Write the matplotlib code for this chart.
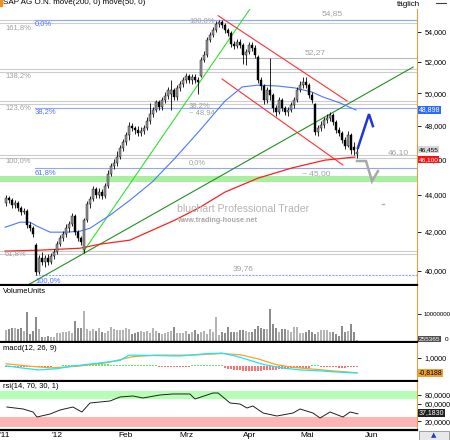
import matplotlib
matplotlib.use('Agg')
import matplotlib.pyplot as plt
import numpy as np
from matplotlib import font_manager
from matplotlib.patches import Rectangle

# ---------------- data ----------------
open_ = [43.55, 43.81, 43.70, 43.43, 43.54, 43.27, 43.05, 43.11, 42.35, 42.19,
         41.30, 39.92, 40.62, 40.42, 40.62, 40.42, 40.73, 40.94, 41.35, 41.66,
         41.87, 42.19, 42.40, 42.84, 41.98, 41.66, 41.04, 42.62, 43.48, 43.76,
         44.32, 43.98, 44.15, 43.92, 44.48, 45.17, 45.62, 45.79, 46.14, 46.67,
         47.03, 47.44, 47.97, 47.85, 47.73, 47.55, 47.67, 47.85, 48.28, 48.70,
         48.95, 49.45, 49.14, 49.57, 49.82, 49.95, 50.20, 49.76, 50.32, 50.58,
         50.83, 51.09, 50.83, 51.03, 50.83, 51.10, 52.13, 52.46, 53.46, 53.80,
         54.14, 54.55, 54.68, 54.48, 54.14, 53.93, 53.19, 53.06, 53.33, 53.13,
         52.46, 52.66, 53.13, 52.92, 52.30, 50.83, 50.45, 49.57, 50.20, 49.88,
         49.07, 48.83, 49.57, 49.07, 48.83, 48.95, 49.26, 49.57, 50.20, 50.51,
         50.71, 50.51, 49.88, 49.30, 47.61, 47.85, 48.03, 48.34, 48.46, 48.64,
         48.21, 47.73, 47.55, 47.14, 46.79, 47.44, 46.75, 46.30]
close = [43.81, 43.70, 43.43, 43.54, 43.27, 43.05, 43.11, 42.35, 42.19, 41.87,
         39.92, 40.62, 40.42, 40.62, 40.42, 40.73, 40.94, 41.35, 41.66, 41.87,
         42.19, 42.40, 42.84, 41.98, 41.66, 41.45, 42.62, 43.48, 43.76, 44.32,
         43.98, 44.15, 43.92, 44.48, 45.17, 45.62, 45.79, 46.14, 46.67, 47.03,
         47.44, 47.97, 47.85, 47.73, 47.55, 47.67, 47.85, 48.28, 48.70, 48.95,
         49.45, 49.14, 49.57, 49.82, 50.20, 50.20, 49.76, 50.32, 50.58, 50.83,
         51.09, 50.83, 51.03, 50.83, 50.71, 52.13, 52.46, 53.46, 53.80, 54.14,
         54.55, 54.68, 54.48, 54.14, 53.93, 53.19, 53.06, 53.33, 53.13, 52.46,
         52.66, 53.13, 52.92, 52.46, 50.83, 50.45, 49.57, 50.20, 49.88, 49.07,
         48.83, 49.57, 49.07, 48.83, 48.95, 49.26, 49.57, 50.20, 50.51, 50.71,
         50.51, 49.88, 49.57, 47.61, 47.85, 48.03, 48.34, 48.46, 48.64, 48.21,
         47.73, 47.55, 47.14, 46.79, 47.44, 46.55, 46.55, 46.46]
high = [43.98, 43.95, 43.85, 43.70, 43.68, 43.40, 43.30, 43.20, 42.50, 42.30,
        41.40, 40.80, 40.95, 40.78, 40.85, 40.90, 41.10, 41.50, 41.85, 42.02,
        42.40, 42.55, 43.00, 42.95, 42.10, 41.80, 42.75, 43.65, 43.95, 44.50,
        44.45, 44.35, 44.30, 44.65, 45.40, 45.80, 46.00, 46.50, 46.85, 47.20,
        47.62, 48.20, 48.15, 48.00, 47.95, 47.90, 48.05, 48.50, 49.40, 49.15,
        49.60, 49.60, 49.75, 50.10, 50.40, 50.85, 50.35, 50.50, 50.80, 51.05,
        51.30, 51.25, 51.20, 51.20, 51.00, 52.35, 52.70, 53.65, 54.00, 54.35,
        54.75, 54.85, 54.80, 54.60, 54.30, 54.05, 53.40, 53.55, 53.50, 53.25,
        52.85, 53.30, 53.35, 53.10, 52.45, 51.00, 50.60, 50.40, 52.27, 50.00,
        49.25, 49.75, 49.70, 49.20, 49.15, 49.45, 49.75, 50.40, 50.75, 51.00,
        51.05, 50.65, 50.05, 49.40, 48.05, 48.25, 48.55, 48.70, 48.85, 48.75,
        48.35, 47.90, 47.70, 47.30, 47.65, 47.55, 47.00, 46.65]
low = [43.40, 43.55, 43.30, 43.25, 43.10, 42.90, 42.95, 42.20, 42.05, 41.75,
       39.76, 39.85, 40.30, 40.20, 40.30, 40.35, 40.60, 40.85, 41.25, 41.50,
       41.75, 42.00, 42.30, 41.85, 41.50, 41.30, 40.88, 42.50, 43.30, 43.65,
       43.85, 43.80, 43.75, 43.80, 44.40, 45.05, 45.45, 45.60, 46.00, 46.50,
       46.85, 47.15, 47.65, 47.50, 47.35, 47.40, 47.50, 47.75, 48.10, 48.55,
       48.80, 48.95, 48.95, 49.40, 49.65, 48.95, 49.60, 49.60, 50.15, 50.40,
       50.65, 50.65, 50.60, 50.65, 49.95, 51.00, 52.00, 52.35, 53.30, 53.65,
       54.00, 54.35, 54.30, 53.95, 53.75, 53.00, 52.85, 52.90, 52.95, 51.90,
       51.81, 52.50, 52.70, 52.25, 50.65, 50.20, 49.35, 49.40, 49.60, 48.85,
       48.60, 48.70, 48.90, 48.65, 48.60, 48.80, 49.10, 49.45, 50.05, 50.35,
       50.30, 49.70, 49.40, 47.45, 47.40, 47.65, 47.85, 48.15, 48.30, 48.05,
       47.55, 47.40, 46.95, 46.60, 46.70, 46.30, 46.25, 46.10]
volume = [4.00, 4.24, 4.62, 4.87, 4.24, 4.87, 3.62, 10.86, 2.37, 3.62,
          8.99, 4.24, 1.50, 1.50, 1.87, 1.50, 1.50, 2.75, 3.00, 3.12,
          3.37, 3.62, 3.00, 7.37, 4.62, 4.62, 11.11, 4.24, 3.75, 4.37,
          3.75, 4.62, 3.37, 2.75, 3.75, 5.24, 4.24, 4.00, 4.00, 4.00,
          4.87, 4.37, 2.37, 2.75, 3.12, 3.62, 3.12, 3.75, 2.75, 4.62,
          3.62, 3.00, 2.37, 2.75, 3.37, 3.62, 4.99, 2.75, 3.00, 3.00,
          3.62, 2.37, 3.12, 4.00, 2.37, 3.12, 3.75, 2.37, 4.24, 3.37,
          8.74, 2.12, 3.37, 2.75, 5.24, 3.12, 3.37, 3.37, 4.00, 4.00,
          3.75, 3.37, 3.37, 4.37, 5.49, 4.62, 4.37, 4.37, 11.74, 6.24,
          4.87, 3.37, 4.24, 4.37, 4.00, 3.37, 4.99, 4.99, 3.00, 3.00,
          3.37, 4.00, 3.12, 2.50, 3.12, 4.00, 4.00, 4.00, 3.12, 3.12,
          2.37, 1.75, 5.49, 3.37, 3.62, 6.24, 3.37, 0.255]  # millions

# moving averages (index, price)
ma50_i = [-0.3, 4.7, 8, 10.3, 14.7, 20.3, 24.7, 28, 34.7, 41.3, 48.7, 56.3, 64.7, 73,
          78.7, 84, 90.7, 96.3, 102, 105.7, 111.3, 116.7]
ma50_v = [42.24, 42.51, 42.51, 42.30, 41.98, 41.98, 42.03, 42.19, 42.89, 43.70, 44.71,
          46.07, 47.73, 49.51, 50.39, 50.51, 50.45, 50.33, 50.07, 49.76, 49.39, 48.95]
ma200_i = [-0.3, 11.3, 24.7, 31.3, 41.3, 56.3, 64.7, 73, 84, 95.3, 106.3, 116.3]
ma200_v = [40.99, 41.04, 41.14, 41.35, 41.56, 42.62, 43.32, 44.15, 44.93, 45.51, 45.96, 46.14]

# MACD / signal knots and histogram
macd_i = [0, 5, 11, 17, 22, 30, 38, 41, 50, 58, 66, 72, 77, 81, 86, 92, 98, 104, 110, 117]
macd_v = [0.05, -0.2, -0.45, -0.3, 0.0, 0.35, 0.7, 1.35, 1.3, 1.25, 1.5, 1.6, 1.2, 0.75,
          0.2, -0.2, -0.45, -0.55, -0.7, -0.82]
sig_i = [0, 8, 15, 24, 34, 42, 50, 62, 72, 78, 84, 90, 96, 104, 110, 117]
sig_v = [0.3, 0.0, -0.2, 0.0, 0.45, 1.15, 1.35, 1.35, 1.55, 1.4, 0.9, 0.2, -0.15, -0.4,
         -0.6, -0.8]
hist = [-0.15, -0.15, -0.15, -0.15, -0.15, -0.15, -0.15, -0.15, -0.15, -0.15,
        -0.15, -0.15, -0.15, -0.05, -0.05, -0.05, 0.0, 0.0, 0.0, 0.1,
        0.1, 0.15, 0.15, 0.2, 0.2, 0.2, 0.25, 0.25, 0.25, 0.3, 0.3, 0.3,
        0.3, 0.25, 0.25, 0.2, 0.2, 0.2, 0.15, 0.15, 0.15, 0.1, 0.1, 0.1,
        0.1, 0.1, 0.1, 0.1, 0.1, 0.1, 0.1, -0.05, -0.05, -0.05, -0.05, -0.05,
        -0.05, -0.05, -0.05, -0.1, -0.1, -0.1, 0.1, 0.15, 0.15, 0.2, 0.2, 0.2,
        0.15, 0.15, 0.1, 0.1, 0.1, -0.2, -0.3, -0.35, -0.4, -0.45, -0.5, -0.55,
        -0.6, -0.6, -0.6, -0.6, -0.55, -0.55, -0.5, -0.5, -0.45, -0.4, -0.4,
        -0.35, -0.3, -0.3, -0.25, -0.25, -0.2, -0.2, -0.2, -0.2, -0.2, -0.2,
        0.1, 0.1, 0.1, -0.1, -0.1, -0.15, -0.15, -0.15, -0.15, -0.2, -0.2,
        -0.2, -0.15, -0.15, -0.1, -0.1]

rsi_i = [0.3, 5.7, 9, 10.3, 14.7, 18, 22.3, 25.3, 28, 34.7, 38, 42.3, 45.7, 51.3, 55.7,
         61.3, 63, 69, 70.7, 74.7, 78, 80.3, 82.3, 85.7, 90.3, 95.7, 98, 102.3, 104.7,
         108, 112.3, 114.7, 117.3]
rsi_v = [52.7, 48.2, 41.4, 30.0, 36.8, 45.9, 52.7, 41.4, 61.8, 66.4, 75.5, 77.7, 73.2,
         80.0, 82.3, 82.3, 70.9, 84.5, 84.5, 61.8, 59.5, 50.5, 55.0, 39.1, 32.3, 39.1,
         48.2, 39.1, 27.7, 41.4, 30.0, 41.4, 37.2]

# Fibonacci / support levels
blue_levels = [54.85, 49.09, 45.52, 39.76]
blue_labels = ['0,0%', '38,2%', '61,8%', '100,0%']
gray_pair_levels = [54.60, 51.35, 49.35, 46.10, 40.85]
gray_left_labels = ['161,8%', '138,2%', '123,6%', '100,0%', '61,8%']
level_5227 = 52.27

# trend lines (index, price)
green_fast = ([25.7, 81.3], [40.94, 55.58])
green_slow = ([7.3, 135.7], [39.28, 51.67])
red_upper = ([70.7, 113.7], [55.12, 49.51])
red_lower = ([72.0, 112.3], [50.90, 45.68])
blue_arrow = ([117.3, 121.0, 122.3], [46.67, 48.70, 47.97])
gray_arrow = ([117.0, 120.0, 122.0, 124.0], [45.91, 45.91, 44.76, 45.33])

month_pos = [-0.3, 17, 39.7, 60.3, 81.3, 100.3, 122]
month_lab = ["'11", "'12", 'Feb', 'Mrz', 'Apr', 'Mai', 'Jun']
price_ticks = [40, 42, 44, 46, 48, 50, 52, 54]

# ---------------- style ----------------
def pick_font(names):
    for n in names:
        try:
            font_manager.findfont(n, fallback_to_default=False)
            return n
        except Exception:
            pass
    return 'DejaVu Sans'

FN = pick_font(['Liberation Sans Narrow', 'Liberation Sans', 'DejaVu Sans'])
plt.rcParams['font.family'] = [FN, 'DejaVu Sans']
FS = 5.5

W, H = 450, 440
fig = plt.figure(figsize=(4.5, 4.4), dpi=100)
fig.patch.set_facecolor('white')

def fx(x):
    return x / W

def fy(y):
    return 1 - y / H

def axes_px(x0, y0, x1, y1):
    return fig.add_axes([fx(x0), fy(y1), (x1 - x0) / W, (y1 - y0) / H])

ax = axes_px(0, 9, 417, 285)
axv = axes_px(0, 286, 417, 342)
axm = axes_px(0, 343, 417, 381)
axr = axes_px(0, 382, 417, 430)

XL = (-2, 137)
for a in (ax, axv, axm, axr):
    a.set_xlim(*XL)
    a.set_facecolor('white')
    for s in ('top', 'left'):
        a.spines[s].set_visible(False)
    a.spines['right'].set_color('#e0a040')
    a.spines['right'].set_linewidth(0.8)
    a.spines['bottom'].set_color('black')
    a.spines['bottom'].set_linewidth(1.6)
    a.yaxis.tick_right()
    a.tick_params(axis='y', which='both', direction='out', length=3, width=0.6,
                  pad=2.5, labelsize=5.2, colors='black')
    a.tick_params(axis='x', which='both', bottom=False, labelbottom=False)

# ---------------- main ----------------
ax.set_yscale('log')
ax.set_ylim(39.28, 55.585)
ax.yaxis.set_major_locator(matplotlib.ticker.FixedLocator(price_ticks))
ax.yaxis.set_minor_locator(matplotlib.ticker.NullLocator())
ax.yaxis.set_major_formatter(matplotlib.ticker.FuncFormatter(
    lambda v, p: f"{v:.3f}".replace('.', ',')))

x_all = XL
ax.axhspan(44.72, 45.06, color='#a8f0a0', lw=0, zorder=1)

off = np.exp(3.0 / 795)
for lv in gray_pair_levels:
    ax.plot(x_all, [lv, lv], color='#cccccc', lw=0.8, zorder=1)
    ax.plot(x_all, [lv * off, lv * off], color='#cccccc', lw=0.8, zorder=1)
ax.plot([71, 137], [level_5227, level_5227], color='#b8b8b8', lw=0.8, zorder=1)

for k, lv in enumerate(blue_levels):
    ax.plot([9.7, 137], [lv, lv], color='#8ca8ff', lw=0.8,
            ls=(0, (2, 1)) if k == 3 else '-', zorder=1)

ax.plot(*green_fast, color='#30e030', lw=0.8, zorder=2)
ax.plot(*green_slow, color='#209020', lw=0.8, zorder=2)
ax.plot(*red_upper, color='#ff3030', lw=0.8, zorder=2)
ax.plot(*red_lower, color='#ff3030', lw=0.8, zorder=2)
ax.plot(ma50_i, ma50_v, color='#4a78ff', lw=0.8, zorder=2)
ax.plot(ma200_i, ma200_v, color='#ff2020', lw=0.9, zorder=2)

o = np.array(open_); c = np.array(close); hi = np.array(high); lo = np.array(low)
idx = np.arange(len(c))
up = c >= o
ax.vlines(idx, lo, hi, color='black', lw=0.6, zorder=3)
bb = np.minimum(o, c)
bh = np.maximum(np.abs(c - o), 0.04)
ax.bar(idx, bh, bottom=bb, width=0.72, color=np.where(up, '#9a9a9a', '#000000'),
       edgecolor='black', linewidth=0.3, zorder=4)

ax.plot(*blue_arrow, color='#2038d0', lw=1.8, zorder=5, solid_joinstyle='miter')
ax.plot(*gray_arrow, color='#a8a8a8', lw=1.8, zorder=5, solid_joinstyle='miter')
ax.plot([125.4, 126.0], [43.48, 43.48], color='#b0b0b0', lw=1.0, zorder=5)

def ftext(x, y, s, color='black', size=FS, ha='left', va='center', **kw):
    fig.text(fx(x), fy(y), s, color=color, fontsize=size, ha=ha, va=va, **kw)

GR = '#a0a0a0'
BL = '#5070ff'
for s, yy in zip(gray_left_labels, [28, 76, 108, 161, 254]):
    ftext(5, yy, s, GR)
for s, yy in zip(blue_labels, [24, 112, 173, 281]):
    ftext(35, yy, s, BL)
ftext(189, 21, '100,0%', GR)
ftext(189, 106, '38,2%', GR)
ftext(189, 113, '~ 48,94', GR)
ftext(189, 163, '0,0%', GR)
ftext(322, 14, '54,85', GR, size=6)
ftext(305, 53, '52,27', GR, size=6)
ftext(388, 153, '46,10', GR, size=6)
ftext(302, 174, '~ 45,00', GR, size=6)
ftext(233, 269, '39,76', GR, size=6)

ftext(177, 209, 'bluchart Professional Trader', '#b4b4b4', size=7.6)
ftext(177, 220, 'www.trading-house.net', '#a8a8a8', size=5.2, weight='bold')

ftext(3, 3, 'SAP AG O.N. move(200, 0) move(50, 0)', 'black', size=5.8)
ftext(397, 4, 'täglich', 'black', size=5.8)
fig.add_artist(Rectangle((0, fy(6)), fx(2), 6 / H, color='#f09020',
                         transform=fig.transFigure))
fig.add_artist(plt.Line2D([fx(436), fx(446)], [fy(3), fy(3)], color='#404040',
                          lw=0.8, transform=fig.transFigure))

def boxlabel(x, y, s, fc, tc, size=5.0):
    fig.text(fx(x), fy(y), s, color=tc, fontsize=size, ha='left', va='center',
             bbox=dict(boxstyle='square,pad=0.08', fc=fc, ec='none'))

boxlabel(419, 110, '48,898', '#2a6cff', 'white')
boxlabel(419, 149.5, '46,455', '#d8d8d8', 'black', size=4.6)
boxlabel(419, 159.5, '46,100', '#ff1010', 'white', size=4.6)

# ---------------- volume ----------------
vol = np.array(volume) * 1e6
axv.bar(idx, vol, width=0.45, color=np.where(up, '#b4b4b4', '#8c8c8c'), lw=0)
axv.set_ylim(-0.49e6, 20.5e6)
axv.set_yticks([1e7])
axv.set_yticklabels(['10000000'], fontsize=4.4)
axv.tick_params(axis='y', pad=1.5)
ftext(3, 291, 'VolumeUnits', 'black', size=FS)
boxlabel(419, 339, '255365', '#505050', 'white', size=4.6)
ftext(444.5, 339, '0', 'black', size=4.6)

# ---------------- macd ----------------
axm.set_ylim(-1.80, 2.83)
axm.bar(idx, hist, width=0.5, color=['#70e070' if h >= 0 else '#ff7070' for h in hist],
        lw=0)
axm.plot(sig_i, sig_v, color='#ffa020', lw=0.9)
axm.plot(macd_i, macd_v, color='#10e8ff', lw=0.9)
axm.set_yticks([1.0])
axm.set_yticklabels(['1,0000'])
ftext(3, 348, 'macd(12, 26, 9)', 'black', size=FS)
boxlabel(419, 373, '-0,8188', '#f0a030', 'black')

# ---------------- rsi ----------------
axr.set_ylim(0.5, 109.5)
axr.axhspan(70, 89, color='#b4ffb4', lw=0)
axr.axhspan(7, 30, color='#ffb4b4', lw=0)
axr.plot(rsi_i, rsi_v, color='#202020', lw=0.7)
axr.set_yticks([20, 60, 80])
axr.set_yticklabels(['20,0000', '60,0000', '80,0000'])
ftext(3, 386, 'rsi(14, 70, 30, 1)', 'black', size=FS)
boxlabel(419, 413, '37,1830', '#202020', 'white')

for p, s in zip(month_pos, month_lab):
    axr.text(p, -5.0 / 48, s, transform=axr.get_xaxis_transform(), ha='center',
             va='center', fontsize=6, color='black')

fig.add_artist(Rectangle((fx(419), fy(439.5)), 30 / W, 8.5 / H, fc='#e8e8e8',
                         ec='#909090', lw=0.6, transform=fig.transFigure))
fig.text(fx(434), fy(435.3), '▲', color='#2040c0', fontsize=5, ha='center',
         va='center', family='DejaVu Sans')

fig.savefig('out.png', dpi=100)
